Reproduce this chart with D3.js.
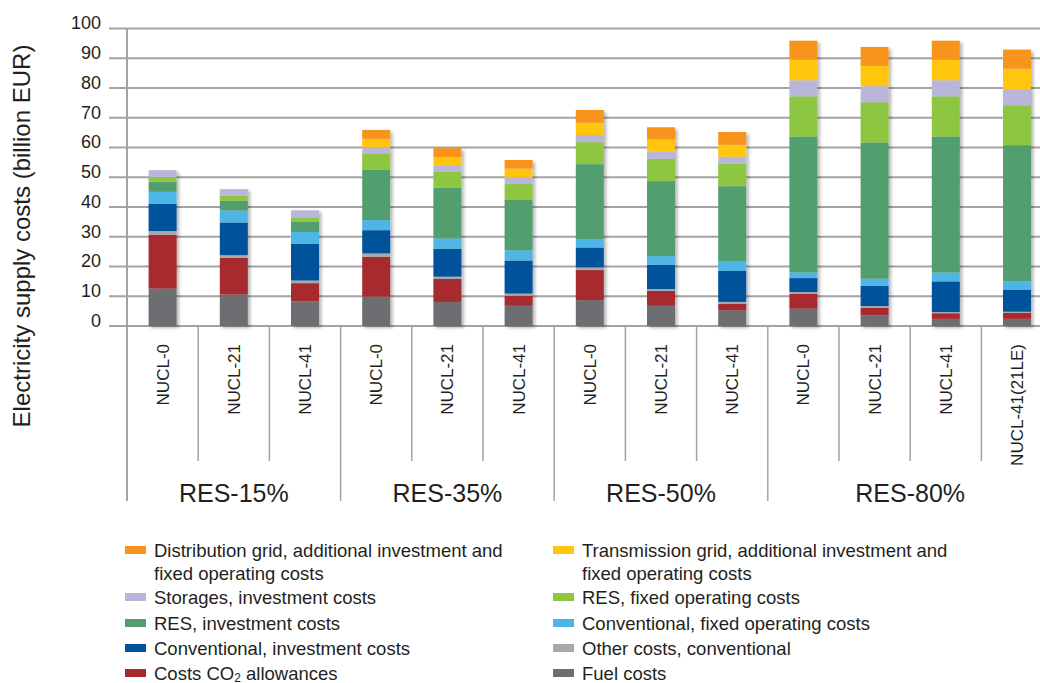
<!DOCTYPE html>
<html>
<head>
<meta charset="utf-8">
<script src="https://cdn.jsdelivr.net/npm/d3@7"></script>
<style>
  html, body { margin: 0; padding: 0; background: #fff; }
  svg { display: block; font-family: "Liberation Sans", Arial, sans-serif; }
</style>
</head>
<body>
<svg id="chart" width="1040" height="683"></svg>
<script>
// ---- Data ----
const categories = ["NUCL-0","NUCL-21","NUCL-41","NUCL-0","NUCL-21","NUCL-41","NUCL-0","NUCL-21","NUCL-41","NUCL-0","NUCL-21","NUCL-41","NUCL-41(21LE)"];
const groups = ["RES-15%","RES-35%","RES-50%","RES-80%"];
const groupSizes = [3, 3, 3, 4];
const yTicks = [0,10,20,30,40,50,60,70,80,90,100];

const fuelCosts      = [12.6,10.6,8.3, 9.9,8.1,6.8, 8.7,6.8,5.3, 5.8,3.6,2.4,2.4];
const co2Costs       = [18.0,12.3,6.1, 13.4,7.7,3.4, 10.1,5.0,2.2, 5.0,2.5,1.9,2.0];
const otherConv      = [1.3,0.9,0.9, 1.1,0.8,0.7, 0.9,0.6,0.6, 0.6,0.6,0.4,0.4];
const convInvest     = [9.2,11.0,12.3, 7.8,9.4,11.1, 6.7,8.2,10.4, 4.7,6.8,10.3,7.3];
const convFixed      = [4.0,4.0,4.0, 3.4,3.4,3.4, 2.7,2.9,3.2, 1.9,2.4,3.0,3.0];
const resInvest      = [3.4,3.3,3.4, 17.0,17.1,17.1, 25.3,25.2,25.3, 45.7,45.8,45.7,45.7];
const resFixed       = [1.5,1.7,1.5, 5.2,5.3,5.2, 7.4,7.5,7.5, 13.5,13.5,13.5,13.4];
const storageInvest  = [2.4,2.2,2.4, 2.2,2.2,2.4, 2.4,2.4,2.4, 5.4,5.4,5.4,5.4];
const transmission   = [0,0,0, 2.9,2.8,2.8, 4.1,4.1,4.0, 6.9,6.8,6.9,6.9];
const distribution   = [0,0,0, 3.0,3.0,2.9, 4.3,4.1,4.3, 6.4,6.4,6.4,6.4];

const seriesKeys = ["fuel","co2","other","convInv","convFix","resInv","resFix","storage","trans","dist"];
const seriesValues = [fuelCosts, co2Costs, otherConv, convInvest, convFixed, resInvest, resFixed, storageInvest, transmission, distribution];
const seriesColors = ["#6d6e71","#a6292f","#a7a9ac","#00529b","#4eb6e6","#529e6e","#8dc63f","#bab6da","#ffc60b","#f7941d"];

const legendLeft = [
  {key:"dist", lines:["Distribution grid, additional investment and","fixed operating costs"]},
  {key:"storage", lines:["Storages, investment costs"]},
  {key:"resInv", lines:["RES, investment costs"]},
  {key:"convInv", lines:["Conventional, investment costs"]},
  {key:"co2", lines:["Costs CO|2| allowances"]}
];
const legendRight = [
  {key:"trans", lines:["Transmission grid, additional investment and","fixed operating costs"]},
  {key:"resFix", lines:["RES, fixed operating costs"]},
  {key:"convFix", lines:["Conventional, fixed operating costs"]},
  {key:"other", lines:["Other costs, conventional"]},
  {key:"fuel", lines:["Fuel costs"]}
];

// ---- Build table ----
const table = categories.map((c, i) => {
  const row = {idx: i, cat: c};
  seriesKeys.forEach((k, s) => row[k] = seriesValues[s][i]);
  return row;
});
const colorOf = {};
seriesKeys.forEach((k, i) => colorOf[k] = seriesColors[i]);

const svg = d3.select("#chart");
const x0 = 127, yBase = 326;
const step = 71.2;
const x = d3.scaleBand().domain(d3.range(categories.length)).range([x0, x0 + step * categories.length]).padding(0);
const y = d3.scaleLinear().domain([0, 100]).range([yBase, 28.5]);
const barW = 28;
const textColor = "#231f20";

const defs = svg.append("defs");
const f = defs.append("filter").attr("id","sh").attr("x","-30%").attr("y","-10%").attr("width","170%").attr("height","130%");
f.append("feDropShadow").attr("dx",2.5).attr("dy",2).attr("stdDeviation",1.8).attr("flood-color","#000").attr("flood-opacity",0.28);

// gridlines + tick marks
const gridColor = "#a3a3a3";
svg.append("g").selectAll("line").data(yTicks).join("line")
  .attr("x1", 109).attr("x2", 1040)
  .attr("y1", d => y(d)).attr("y2", d => y(d))
  .attr("stroke", gridColor).attr("stroke-width", 2);

// Y axis tick labels via d3 axis (sitting slightly above the gridline)
const yAxis = d3.axisLeft(y).tickValues(yTicks).tickSize(0).tickPadding(0);
const gy = svg.append("g").attr("transform", "translate(101,-6)").call(yAxis);
gy.select(".domain").remove();
gy.selectAll("text").attr("font-size", 18).attr("fill", textColor)
  .attr("font-family", '"Liberation Sans", Arial, sans-serif').attr("dy", "0.35em");

// vertical axis line
svg.append("line").attr("x1", x0).attr("x2", x0).attr("y1", y(100)).attr("y2", 501)
  .attr("stroke", gridColor).attr("stroke-width", 2);

// separators below axis
let groupStart = [0];
groupSizes.reduce((acc, s) => { groupStart.push(acc + s); return acc + s; }, 0);
d3.range(1, categories.length + 1).forEach(i => {
  const isGroup = groupStart.includes(i);
  const xx = (i < categories.length) ? x(i) : x(i - 1) + x.bandwidth();
  svg.append("line").attr("x1", xx).attr("x2", xx)
    .attr("y1", yBase).attr("y2", isGroup ? 501 : 461)
    .attr("stroke", gridColor).attr("stroke-width", 1.5);
});

// Stacked bars
const stack = d3.stack().keys(seriesKeys);
const stacked = stack(table);
const barsG = svg.append("g");
stacked.forEach(layer => {
  barsG.append("g").attr("fill", colorOf[layer.key])
    .selectAll("rect").data(layer).join("rect")
    .attr("x", d => x(d.data.idx) + x.bandwidth() / 2 - barW / 2)
    .attr("width", barW)
    .attr("y", d => y(d[1]))
    .attr("height", d => Math.max(0, y(d[0]) - y(d[1])));
});
barsG.attr("filter", "url(#sh)");

// Category labels
const xAxis = d3.axisBottom(x).tickFormat(i => categories[i]).tickSize(0).tickPadding(0);
const gx = svg.append("g").attr("transform", `translate(0,${yBase})`).call(xAxis);
gx.select(".domain").remove();
gx.selectAll("text")
  .attr("font-size", 17).attr("fill", textColor)
  .attr("font-family", '"Liberation Sans", Arial, sans-serif')
  .attr("text-anchor", "end")
  .attr("transform", "translate(0,18) rotate(-90)")
  .attr("x", 0).attr("y", 0).attr("dy", "0.35em");

// Group labels
groups.forEach((g, gi) => {
  const s = groupStart[gi], e = groupStart[gi + 1];
  const cx = (x(s) + x(e - 1) + x.bandwidth()) / 2;
  svg.append("text").attr("x", cx).attr("y", 502).attr("text-anchor", "middle")
    .attr("font-size", 25).attr("fill", textColor).text(g);
});

// Y axis title
svg.append("text").attr("transform", "translate(30,236) rotate(-90)")
  .attr("text-anchor", "middle").attr("font-size", 24).attr("fill", textColor)
  .text("Electricity supply costs (billion EUR)");

// Legend
function drawLegend(items, sx, tx) {
  const rowY = [550, 597, 623, 648, 673];
  items.forEach((it, i) => {
    const cy = rowY[i];
    svg.append("rect").attr("x", sx).attr("y", cy - 4).attr("width", 21).attr("height", 8)
      .attr("fill", colorOf[it.key]);
    it.lines.forEach((ln, j) => {
      const t = svg.append("text").attr("x", tx).attr("y", cy + 6.5 + j * 23.5)
        .attr("font-size", 18.5).attr("fill", textColor);
      const parts = ln.split("|");
      parts.forEach((p, pi) => {
        if (pi === 1) t.append("tspan").attr("font-size", 12).attr("dy", 2).text(p);
        else if (pi === 2) t.append("tspan").attr("dy", -2).text(p);
        else t.append("tspan").text(p);
      });
    });
  });
}
drawLegend(legendLeft, 125, 154);
drawLegend(legendRight, 553, 582);
</script>
</body>
</html>
